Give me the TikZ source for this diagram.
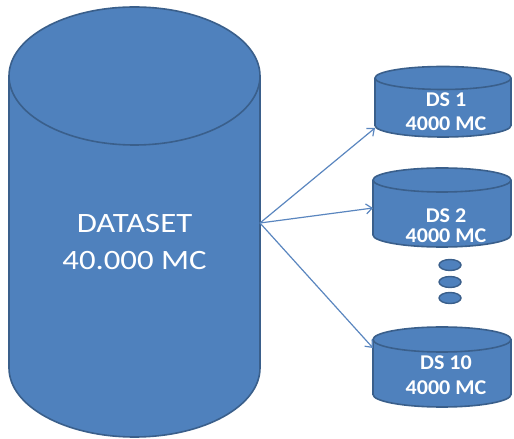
\documentclass[tikz,border=0pt]{standalone}
\usepackage{fontspec}
\setmainfont{Carlito}
\newfontfamily\bigfont[FakeStretch=1.17]{Carlito}
\newfontfamily\smallfont[FakeStretch=1.05]{Carlito}
\usetikzlibrary{arrows.meta}
\definecolor{dbfill}{HTML}{4F81BD}
\definecolor{dbline}{HTML}{3A5F8B}
\definecolor{link}{HTML}{5A86BF}
% cylinder: #1 left x, #2 right x, #3 top-cap centre y, #4 bottom-cap centre y, #5 cap y radius
\newcommand{\dbcyl}[5]{%
  \pgfmathsetmacro{\rx}{(#2-#1)/2}%
  \filldraw[dbstyle] (#1,#3) -- (#1,#4)
    arc[start angle=180, end angle=360, x radius=\rx pt, y radius=#5 pt]
    -- (#2,#3)
    arc[start angle=0, end angle=180, x radius=\rx pt, y radius=#5 pt] -- cycle;
  \draw[dbstyle, fill=none] (#1,#3)
    arc[start angle=180, end angle=360, x radius=\rx pt, y radius=#5 pt];
}
\tikzset{
  dbstyle/.style={fill=dbfill, draw=dbline, line width=1.6pt},
  bigtext/.style={text=white, font=\bigfont\fontsize{28}{34}\selectfont, anchor=base, inner sep=0pt},
  smalltext/.style={text=white, font=\smallfont\bfseries\fontsize{21}{25}\selectfont, anchor=base, inner sep=0pt},
  linkarrow/.style={draw=link, line width=1.2pt, -{Straight Barb[length=6pt, width=10pt]}},
  dotstyle/.style={fill=dbfill, draw=dbline, line width=1.4pt}
}
\begin{document}
\begin{tikzpicture}[x=1pt, y=1pt]
  \useasboundingbox (0,0) rectangle (514,439);

  % main dataset
  \dbcyl{9}{260}{363}{71}{69}
  \node[bigtext] (dstitle) at (134.5,206) {DATASET};
  \node[bigtext] (dssize) at (134.5,169) {40.000 MC};

  % partitions
  \dbcyl{375}{511}{361}{313.5}{11.5}
  \node[smalltext] (ds1a) at (446,332) {DS 1};
  \node[smalltext] (ds1b) at (446,308) {4000 MC};

  \dbcyl{373}{511}{259}{204}{12}
  \node[smalltext] (ds2a) at (446,216) {DS 2};
  \node[smalltext] (ds2b) at (446,196) {4000 MC};

  \dbcyl{373}{511}{99.5}{44.5}{12.5}
  \node[smalltext] (ds10a) at (446,69) {DS 10};
  \node[smalltext] (ds10b) at (446,44) {4000 MC};

  % ellipsis dots
  \draw[dotstyle] (450,174) ellipse[x radius=11pt, y radius=5.5pt];
  \draw[dotstyle] (450,157) ellipse[x radius=11pt, y radius=5.5pt];
  \draw[dotstyle] (450,141) ellipse[x radius=11pt, y radius=5.5pt];

  % split arrows
  \coordinate (src) at (260,216);
  \coordinate (in1) at (375,311);
  \coordinate (in2) at (373,231);
  \coordinate (in10) at (373,91);
  \draw[linkarrow] (src) -- (in1);
  \draw[linkarrow] (src) -- (in2);
  \draw[linkarrow] (src) -- (in10);
\end{tikzpicture}
\end{document}
